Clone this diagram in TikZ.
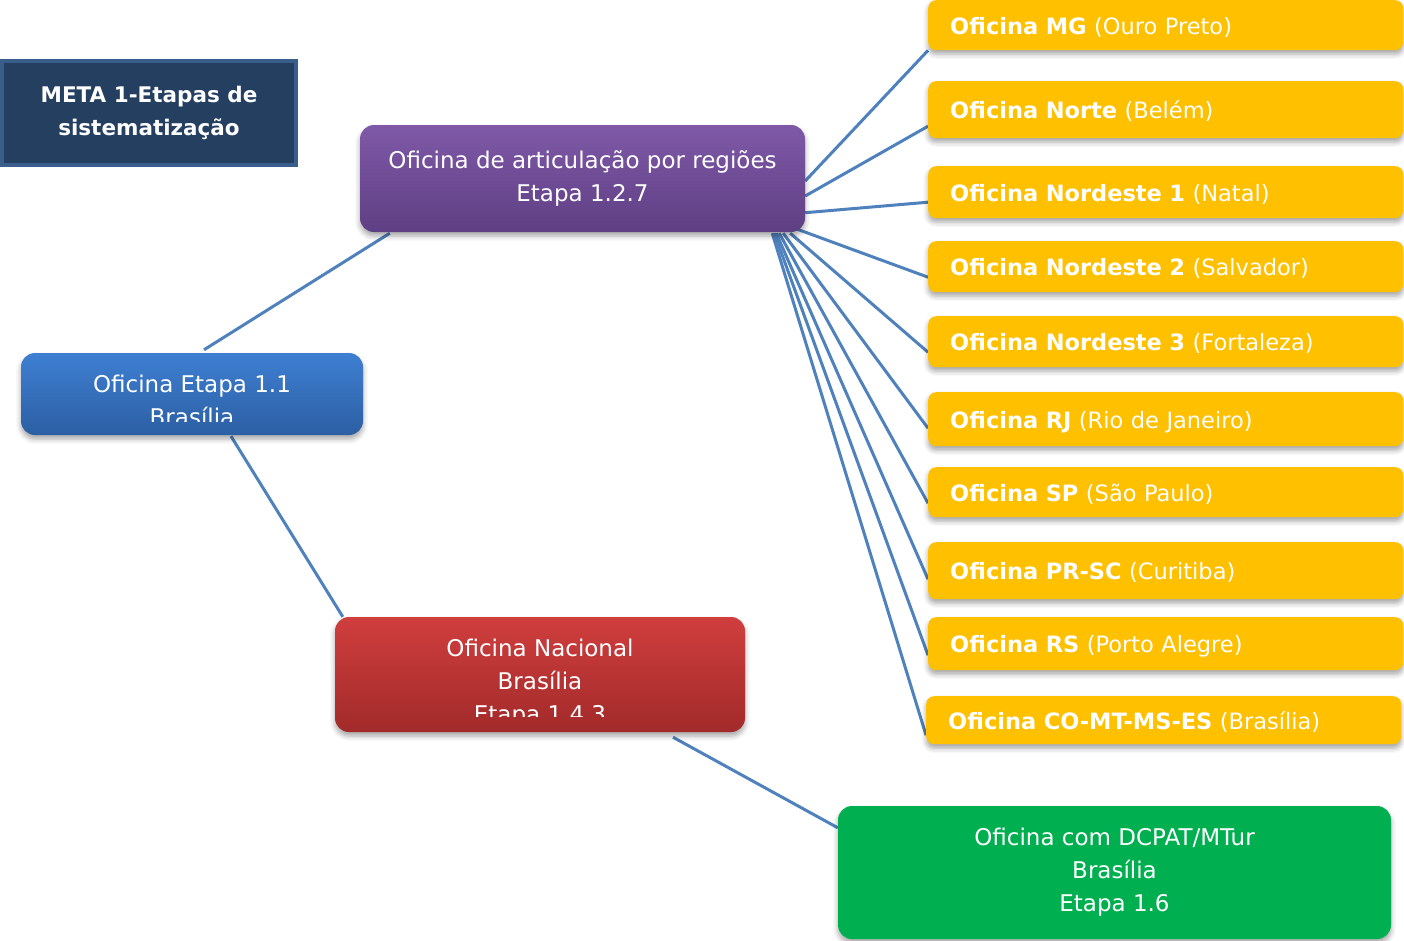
\documentclass[tikz,border=0pt]{standalone}
\usepackage{fontspec}
\setmainfont{DejaVu Sans}
\usetikzlibrary{calc,shadows.blur,backgrounds}
\definecolor{linkc}{HTML}{4F81BD}
\definecolor{metafill}{HTML}{243F60}
\definecolor{metaborder}{HTML}{3A5E8C}
\definecolor{purtop}{HTML}{7F59A8}
\definecolor{purbot}{HTML}{5F3F83}
\definecolor{blutop}{HTML}{3E7FD2}
\definecolor{blubot}{HTML}{2C5FA3}
\definecolor{redtop}{HTML}{D03E3E}
\definecolor{redbot}{HTML}{A22A2A}
\definecolor{grn}{HTML}{00B050}
\definecolor{orng}{HTML}{FFC000}
\tikzset{
  txt/.style={text=white, font=\fontsize{23}{33}\selectfont, align=center},
  shad/.style={blur shadow={shadow xshift=0pt, shadow yshift=-4pt, shadow blur radius=5pt, shadow opacity=35}},
  rbox/.style={shad, rounded corners=14pt, inner sep=0pt},
  metabox/.style={txt, fill=metafill, draw=metaborder, line width=4pt, font=\fontsize{21.5}{33}\selectfont\bfseries,
    minimum width=294pt, minimum height=104pt, inner sep=0pt},
  obox/.style={shad, fill=orng, rounded corners=8pt, anchor=north west, minimum width=475pt,
    text width=431pt, inner xsep=22pt, inner ysep=0pt, align=left, text=white,
    text height=20pt, text depth=2pt,
    font=\fontsize{22.5}{33}\selectfont},
  link/.style={draw=linkc, line width=3pt}
}
\begin{document}
\begin{tikzpicture}[x=1pt,y=-1pt]
\useasboundingbox (0,0) rectangle (1404,940);

\node[metabox] (meta) at (149,113) {META 1-Etapas de\\sistematização};

\node[rbox, top color=purtop, bottom color=purbot, minimum width=445pt, minimum height=107pt, txt] (p) at (582.5,178.5)
  {Oficina de articulação por regiões\\Etapa 1.2.7};

\node[rbox, top color=blutop, bottom color=blubot, minimum width=342pt, minimum height=82pt] (b) at (192,394) {};
\begin{scope}
  \clip (21,353) rectangle (363,421);
  \node[txt] (bt) at (192,400) {Oficina Etapa 1.1\\Brasília};
\end{scope}

\node[rbox, top color=redtop, bottom color=redbot, minimum width=410pt, minimum height=115pt] (r) at (540,674.5) {};
\begin{scope}
  \clip (335,617) rectangle (745,716);
  \node[txt] (rt) at (540,683) {Oficina Nacional\\Brasília\\Etapa 1.4.3};
\end{scope}

\node[rbox, fill=grn, minimum width=553pt, minimum height=133pt, txt] (g) at (1114.5,872.5)
  {Oficina com DCPAT/MTur\\Brasília\\Etapa 1.6};

\node[obox, minimum height=50pt] (o1) at (928,0) {\textbf{Oficina MG} (Ouro Preto)};
\node[obox, minimum height=57pt] (o2) at (928,81) {\textbf{Oficina Norte} (Belém)};
\node[obox, minimum height=52pt] (o3) at (928,166) {\textbf{Oficina Nordeste 1} (Natal)};
\node[obox, minimum height=51pt] (o4) at (928,241) {\textbf{Oficina Nordeste 2} (Salvador)};
\node[obox, minimum height=51pt] (o5) at (928,316) {\textbf{Oficina Nordeste 3} (Fortaleza)};
\node[obox, minimum height=54pt] (o6) at (928,392) {\textbf{Oficina RJ} (Rio de Janeiro)};
\node[obox, minimum height=50pt] (o7) at (928,467) {\textbf{Oficina SP} (São Paulo)};
\node[obox, minimum height=57pt] (o8) at (928,542) {\textbf{Oficina PR-SC} (Curitiba)};
\node[obox, minimum height=53pt] (o9) at (928,617) {\textbf{Oficina RS} (Porto Alegre)};
\node[obox, minimum height=48pt] (o10) at (926,696) {\textbf{Oficina CO-MT-MS-ES} (Brasília)};

\begin{scope}[on background layer]
  \draw[link] ($(b.north)+(12,-3)$) -- ($(p.south west)+(30,1)$);
  \draw[link] ($(b.south)+(39,1)$) -- ($(r.north west)+(8,0)$);
  \draw[link] ($(r.south)+(133,5)$) -- ($(g.north west)+(0,22)$);
  \draw[link] ($(p.east)+(0,2.5)$) -- (o1.south west);
  \draw[link] ($(p.east)+(0,17.5)$) -- ($(o2.west)+(0,16.5)$);
  \draw[link] ($(p.south east)+(0,-19.5)$) -- ($(o3.west)+(0,10)$);
  \draw[link] ($(p.south east)+(-8,-3)$) -- ($(o4.west)+(0,10.5)$);
  \draw[link] ($(p.south east)+(-15,1)$) -- ($(o5.west)+(0,10.5)$);
  \draw[link] ($(p.south east)+(-22,1)$) -- ($(o6.west)+(0,9)$);
  \draw[link] ($(p.south east)+(-26,1)$) -- ($(o7.west)+(0,11)$);
  \draw[link] ($(p.south east)+(-29,1)$) -- ($(o8.west)+(0,8.5)$);
  \draw[link] ($(p.south east)+(-31,1)$) -- ($(o9.west)+(0,11.5)$);
  \draw[link] ($(p.south east)+(-33,1)$) -- ($(o10.west)+(0,15)$);
\end{scope}
\end{tikzpicture}
\end{document}
